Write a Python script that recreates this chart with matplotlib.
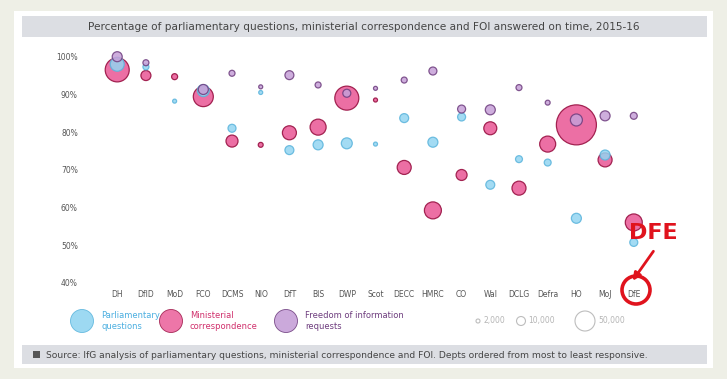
import numpy as np
import matplotlib
matplotlib.use('Agg')
import matplotlib.pyplot as plt
from matplotlib.patches import Rectangle, Circle, FancyArrowPatch
from matplotlib import font_manager

nan = np.nan

# departments, ordered from most to least responsive
depts = ['DH', 'DfID', 'MoD', 'FCO', 'DCMS', 'NIO', 'DfT', 'BIS', 'DWP', 'Scot',
         'DECC', 'HMRC', 'CO', 'Wal', 'DCLG', 'Defra', 'HO', 'MoJ', 'DfE']

# % answered on time
pq_pct = [98.0, 97.3, 88.2, 91.0, 81.0, 90.5, 75.2, 76.6, 77.0, 76.8,
          83.7, 77.3, 84.0, 66.0, 72.8, 71.9, 57.1, 73.9, 50.7]
mc_pct = [96.5, 95.0, 94.7, 89.4, 77.6, 76.6, 79.8, 81.3, 89.0, 88.5,
          70.6, 59.2, 68.6, 81.0, 65.1, 76.8, 81.9, 72.6, 56.0]
foi_pct = [100.0, 98.4, nan, 91.3, 95.6, 92.0, 95.1, 92.5, 90.3, 91.6,
           93.8, 96.2, 86.1, 85.9, 91.8, 87.8, 83.2, 84.3, 84.3]

# volumes (bubble size)
pq_vol = [24500, 4500, 2000, 18000, 8000, 2000, 10000, 12500, 15000, 2000,
          10000, 12500, 8000, 10000, 6000, 6000, 12500, 12500, 8000]
mc_vol = [72000, 12500, 4500, 50000, 18000, 3000, 24500, 32000, 72000, 2000,
          24500, 36000, 15000, 21000, 24500, 32000, 200000, 24500, 36000]
foi_vol = [12500, 4500, 0, 12500, 4500, 2000, 10000, 4500, 8000, 2000,
           4500, 8000, 8000, 12500, 4500, 3000, 18000, 12500, 6000]

y_ticks = [40, 50, 60, 70, 80, 90, 100]
size_legend = [2000, 10000, 50000]
size_labels = ['2,000', '10,000', '50,000']

W, H = 727, 379
fig = plt.figure(figsize=(W / 100, H / 100), dpi=100)
fig.patch.set_facecolor('#eeefe6')

# background layer in pixel coords
bg = fig.add_axes([0, 0, 1, 1], zorder=0)
bg.set_xlim(0, W)
bg.set_ylim(H, 0)
bg.axis('off')
bg.add_patch(Rectangle((14, 11), 699, 357, facecolor='white', edgecolor='none'))
bg.add_patch(Rectangle((22, 16), 685, 21, facecolor='#dcdee3', edgecolor='none'))
bg.text(364, 27, 'Percentage of parliamentary questions, ministerial correspondence '
        'and FOI answered on time, 2015-16', ha='center', va='center',
        fontsize=7.6, color='#454545')
bg.add_patch(Rectangle((22, 345), 685, 19, facecolor='#dcdee3', edgecolor='none'))
bg.add_patch(Rectangle((33, 351), 7, 7, facecolor='#555555', edgecolor='none'))
bg.text(46, 355, 'Source: IfG analysis of parliamentary questions, ministerial '
        'correspondence and FOI. Depts ordered from most to least responsive.',
        ha='left', va='center', fontsize=6.6, color='#454545')

pq_col = ('#93d5f1', '#5ab4dc')
mc_col = ('#eb679f', '#9e1a4a')
foi_col = ('#c6a0d8', '#6e3d7e')

# colour legend
items = [(82, 'Parliamentary\nquestions', pq_col, '#4aaee0'),
         (171, 'Ministerial\ncorrespondence', mc_col, '#d0306c'),
         (286, 'Freedom of information\nrequests', foi_col, '#6e3d7e')]
for x, lab, col, tcol in items:
    bg.add_patch(Circle((x, 321), 11.5, facecolor=col[0], edgecolor=col[1],
                        lw=0.6, alpha=0.9))
    bg.text(x + 19, 321, lab, ha='left', va='center', fontsize=6,
            color=tcol, linespacing=1.3)

# size legend
for x, v, lab in zip([478, 521, 585], size_legend, size_labels):
    r = np.sqrt(v / 500.0)
    bg.add_patch(Circle((x, 321), r, facecolor='white', edgecolor='#bdbdbd', lw=0.8))
    bg.text(x + r + 3, 321, lab, ha='left', va='center', fontsize=5.5, color='#b5b5b5')

# main chart
ax = fig.add_axes([100 / W, 1 - 282.7 / H, 551 / W, 226 / H], zorder=1)
ax.patch.set_alpha(0)
x = np.arange(len(depts))


def size(v):
    return np.array(v, dtype=float) / 241.0


ax.scatter(x, mc_pct, s=size(mc_vol), c=mc_col[0], edgecolors=mc_col[1],
           linewidths=0.9, alpha=0.95, clip_on=False, zorder=2)
ax.scatter(x, pq_pct, s=size(pq_vol), c=pq_col[0], edgecolors=pq_col[1],
           linewidths=0.9, alpha=0.85, clip_on=False, zorder=3)
ax.scatter(x, foi_pct, s=size(foi_vol), c=foi_col[0], edgecolors=foi_col[1],
           linewidths=0.9, alpha=0.85, clip_on=False, zorder=4)

ax.set_xlim(-0.6, 18.6)
ax.set_ylim(40, 100)
ax.set_xticks(x)
ax.set_xticklabels(depts, fontsize=5.5, color='#555555')
ax.set_yticks(y_ticks)
ax.set_yticklabels(['%d%%' % t for t in y_ticks], fontsize=5.5, color='#555555')
ax.tick_params(length=0)
ax.tick_params(axis='y', pad=16)
ax.tick_params(axis='x', pad=5)
for s in ax.spines.values():
    s.set_visible(False)

# red annotation on top
fg = fig.add_axes([0, 0, 1, 1], zorder=5)
fg.set_xlim(0, W)
fg.set_ylim(H, 0)
fg.axis('off')
fg.patch.set_alpha(0)
names = set(f.name for f in font_manager.fontManager.ttflist)
narrow = 'Liberation Sans Narrow' if 'Liberation Sans Narrow' in names else 'DejaVu Sans'
fg.text(653, 233, 'DFE', ha='center', va='center', fontsize=16, fontweight='bold',
        family=narrow, color='#e0131d')
fg.add_patch(FancyArrowPatch((655, 249), (631, 283), arrowstyle='-|>',
                             mutation_scale=11, lw=2, color='#e0131d'))
fg.add_patch(Circle((636, 290), 14, facecolor='none', edgecolor='#e0131d', lw=2.6))

plt.savefig('out.png', dpi=100)
